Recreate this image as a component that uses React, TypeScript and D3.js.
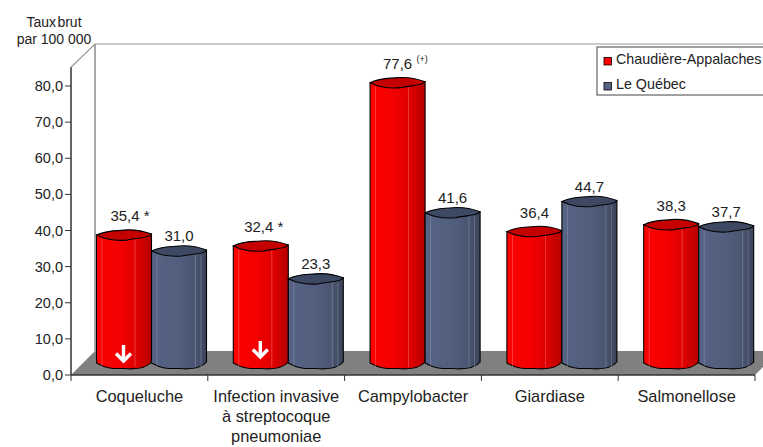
import React from "react";
import * as d3 from "d3";

const categories = ["Coqueluche", "Infection invasive", "Campylobacter", "Giardiase", "Salmonellose"];
const categoryLines = [["Coqueluche"], ["Infection invasive", "à streptocoque", "pneumoniae"], ["Campylobacter"], ["Giardiase"], ["Salmonellose"]];
const regionValues = [35.4, 32.4, 77.6, 36.4, 38.3];
const quebecValues = [31.0, 23.3, 41.6, 44.7, 37.7];
const regionNotes = [" *", " *", "", "", ""];
const arrowFlags = [true, true, false, false, false];
const yTicks = [0, 10, 20, 30, 40, 50, 60, 70, 80];
const seriesNames = ["Chaudière-Appalaches", "Le Québec"];
const FONT = "'Liberation Sans', Arial, sans-serif";

const fr = (v: number) => v.toFixed(1).replace(".", ",");

const x = d3.scaleBand<string>().domain(categories).range([71, 755]);
const y = d3.scaleLinear().domain([0, 80]).range([375, 86]);
const baseShift = 12;
const topShift = 11;
const barW = 55;
const ry = 5.5;

function Cyl({ x0, v, grad, top, streak, streaks }: { x0: number; v: number; grad: string; top: string; streak: string; streaks: number[] }) {
  const yTop = y(v) - topShift;
  const yBot = y(0) - baseShift;
  const x1 = x0 + barW;
  const w = barW;
  const lid = `M${x0},${yTop - 1} C${x0 + w * 0.2},${yTop - 6} ${x0 + w * 0.3},${yTop - 5} ${x0 + w * 0.5},${yTop - 6} C${x0 + w * 0.7},${yTop - 7} ${x0 + w * 0.85},${yTop - 5} ${x1},${yTop - 2} C${x1 - 1},${yTop + 2} ${x0 + w * 0.7},${yTop + 2} ${x0 + w * 0.55},${yTop + 4} C${x0 + w * 0.35},${yTop + 5} ${x0 + w * 0.15},${yTop + 3} ${x0},${yTop - 1}Z`;
  const body = `M${x0},${yTop - 1} L${x0},${yBot} C${x0 + w * 0.2},${yBot + ry + 1} ${x0 + w * 0.35},${yBot + ry} ${x0 + w * 0.5},${yBot + ry} C${x0 + w * 0.7},${yBot + ry + 1} ${x0 + w * 0.9},${yBot + ry} ${x1},${yBot - 1} L${x1},${yTop - 2} Z`;
  return (
    <g>
      <path d={body} fill={`url(#${grad})`} stroke="#000" strokeWidth={1.1} />
      {streaks.map((f) => (
        <line key={f} x1={x0 + w * f} x2={x0 + w * f} y1={yTop + 3} y2={yBot + 4} stroke={streak} strokeWidth={0.7} opacity={0.5} />
      ))}
      <path d={lid} fill={top} stroke="#000" strokeWidth={1.1} />
    </g>
  );
}

function Arrow({ cx, yTopA }: { cx: number; yTopA: number }) {
  return (
    <path
      d={`M${cx},${yTopA} V${yTopA + 16} M${cx - 7.5},${yTopA + 8.5} L${cx},${yTopA + 16} L${cx + 7.5},${yTopA + 8.5}`}
      fill="none"
      stroke="#fff"
      strokeWidth={3.4}
    />
  );
}

export default function App() {
  return (
    <svg width={763} height={447} viewBox="0 0 763 447" style={{ position: "absolute", left: 0, top: 0, background: "#fff" }} fontFamily={FONT}>
      <defs>
        <linearGradient id="redG" x1="0" x2="1" y1="0" y2="0">
          <stop offset="0" stopColor="#ff0000" />
          <stop offset="0.45" stopColor="#f20000" />
          <stop offset="0.75" stopColor="#dc0000" />
          <stop offset="1" stopColor="#b50000" />
        </linearGradient>
        <linearGradient id="blueG" x1="0" x2="1" y1="0" y2="0">
          <stop offset="0" stopColor="#566384" />
          <stop offset="0.5" stopColor="#525e7d" />
          <stop offset="0.8" stopColor="#495470" />
          <stop offset="1" stopColor="#3b4459" />
        </linearGradient>
      </defs>

      {/* wall and floor */}
      <path d={`M71,${y(85.2)} L95,44 H763`} fill="none" stroke="#999" strokeWidth={1.2} />
      <line x1={95} x2={95} y1={44} y2={351} stroke="#8c8c8c" strokeWidth={1.5} />
      <path d="M71,375 L95,351 H763 V367 L755,375 Z" fill="#808080" />

      {/* axes */}
      <line x1={71} x2={71} y1={y(85.2)} y2={375} stroke="#333" strokeWidth={1.5} />
      <line x1={71} x2={755} y1={375} y2={375} stroke="#333" strokeWidth={1.5} />
      {yTicks.map((t) => (
        <g key={t}>
          <line x1={65} x2={71} y1={y(t)} y2={y(t)} stroke="#333" />
          <text x={63} y={y(t) + 5} textAnchor="end" fontSize={14.5} fill="#222">{fr(t)}</text>
        </g>
      ))}
      {[...categories.map((c) => x(c)!), 755].map((p) => (
        <line key={p} x1={p} x2={p} y1={375} y2={381} stroke="#333" />
      ))}

      {/* bars */}
      {categories.map((c, i) => {
        const x0 = x(c)! + 25.5;
        const noteShift = i === 0 ? 6 : i === 1 ? 3 : 0;
        return (
          <g key={c}>
            <Cyl x0={x0} v={regionValues[i]} grad="redG" top="#c40000" streak="#ffb0b0" streaks={[0.1, 0.7]} />
            <Cyl x0={x0 + barW} v={quebecValues[i]} grad="blueG" top="#3d4862" streak="#a8b2c8" streaks={[0.1, 0.8, 0.9]} />
            {arrowFlags[i] && <Arrow cx={x0 + 27} yTopA={i === 0 ? 345 : 341} />}
            <text x={x0 + barW / 2 + noteShift} y={y(regionValues[i]) - topShift - 15} textAnchor="middle" fontSize={15} fill="#222">
              {fr(regionValues[i]) + regionNotes[i]}
            </text>
            {i === 2 && (
              <text x={x0 + barW / 2 + 19} y={y(regionValues[i]) - topShift - 22} fontSize={9} fill="#222">(+)</text>
            )}
            <text x={x0 + barW * 1.5} y={y(quebecValues[i]) - topShift - 11} textAnchor="middle" fontSize={15} fill="#222">
              {fr(quebecValues[i])}
            </text>
            {categoryLines[i].map((l, k) => (
              <text key={l} x={x(c)! + x.bandwidth() / 2} y={402 + k * 20} textAnchor="middle" fontSize={16.4} fill="#222">{l}</text>
            ))}
          </g>
        );
      })}

      {/* axis title */}
      <text x={54} y={27} textAnchor="middle" fontSize={14} fill="#222" wordSpacing={-2.5}>Taux brut</text>
      <text x={54} y={44} textAnchor="middle" fontSize={14} fill="#222">par 100 000</text>

      {/* legend */}
      <rect x={597} y={47} width={170} height={48} fill="#fff" stroke="#444" strokeWidth={1} />
      {seriesNames.map((s, i) => (
        <g key={s}>
          <rect x={604} y={57.5 + i * 25} width={7.5} height={7.5} fill={i === 0 ? "#ff0000" : "#566384"} stroke="#000" strokeWidth={0.8} />
          <text x={616} y={64 + i * 24.5} fontSize={14.3} fill="#222">{s}</text>
        </g>
      ))}
    </svg>
  );
}
